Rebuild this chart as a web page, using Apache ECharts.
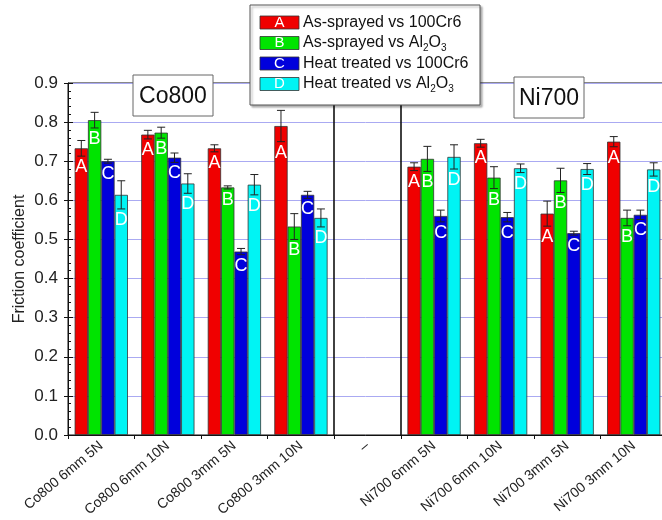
<!DOCTYPE html>
<html>
<head>
<meta charset="utf-8">
<script src="https://cdn.jsdelivr.net/npm/echarts@6/dist/echarts.min.js"></script>
<style>
  html, body { margin: 0; padding: 0; background: #fff; }
  #chart { width: 662px; height: 520px; }
</style>
</head>
<body>
<div id="chart"></div>
<script>
const categories = ['Co800 6mm 5N', 'Co800 6mm 10N', 'Co800 3mm 5N', 'Co800 3mm 10N', '–',
  'Ni700 6mm 5N', 'Ni700 6mm 10N', 'Ni700 3mm 5N', 'Ni700 3mm 10N'];

const sprayed100Cr6 = [0.733, 0.768, 0.733, 0.790, null, 0.686, 0.746, 0.566, 0.750];
const sprayed100Cr6Err = [0.020, 0.011, 0.009, 0.040, null, 0.010, 0.010, 0.032, 0.013];
const sprayedAl2O3 = [0.805, 0.773, 0.633, 0.533, null, 0.706, 0.658, 0.651, 0.555];
const sprayedAl2O3Err = [0.020, 0.014, 0.004, 0.033, null, 0.032, 0.028, 0.031, 0.020];
const heat100Cr6 = [0.700, 0.709, 0.469, 0.614, null, 0.560, 0.557, 0.516, 0.563];
const heat100Cr6Err = [0.005, 0.012, 0.008, 0.009, null, 0.015, 0.012, 0.005, 0.012];
const heatAl2O3 = [0.614, 0.643, 0.640, 0.555, null, 0.711, 0.682, 0.680, 0.679];
const heatAl2O3Err = [0.036, 0.025, 0.026, 0.023, null, 0.031, 0.011, 0.014, 0.017];

const letters = ['A', 'B', 'C', 'D'];
const colors = ['#f00000', '#00e400', '#0000dc', '#00f4f4'];
const legendLabels = [
  '{a|As-sprayed vs 100Cr6}',
  '{a|As-sprayed vs Al}{s|2}{a|O}{s|3}',
  '{a|Heat treated vs 100Cr6}',
  '{a|Heat treated vs Al}{s|2}{a|O}{s|3}'
];
const groupLabels = ['Co800', 'Ni700'];

const values = [sprayed100Cr6, sprayedAl2O3, heat100Cr6, heatAl2O3];
const errors = [sprayed100Cr6Err, sprayedAl2O3Err, heat100Cr6Err, heatAl2O3Err];

const FONT = '"Liberation Sans", Arial, sans-serif';
const GAP = 0.2;

const myChart = echarts.init(document.getElementById('chart'));

const barSeries = values.map((vals, k) => ({
  name: letters[k],
  type: 'bar',
  data: vals,
  barGap: 0,
  barCategoryGap: '20%',
  itemStyle: {
    color: colors[k],
    borderColor: '#333',
    borderWidth: 0.8
  },
  z: 2
}));

const errSeries = values.map((vals, k) => ({
  type: 'custom',
  z: 5,
  silent: true,
  encode: { x: 0, y: 1 },
  data: vals.map((v, i) => (v == null ? null : [i, v, errors[k][i]])).filter(d => d),
  renderItem: function (params, api) {
    const idx = api.value(0);
    const v = api.value(1);
    const e = api.value(2);
    const catW = api.size([1, 0])[0];
    const barW = catW * (1 - GAP) / 4;
    const off = (k - 1.5) * barW;
    const top = api.coord([idx, v + e]);
    const bot = api.coord([idx, v - e]);
    const x = top[0] + off;
    const cap = 4;
    const ls = { stroke: '#222', lineWidth: 1 };
    return {
      type: 'group',
      children: [
        { type: 'line', shape: { x1: x, y1: top[1], x2: x, y2: bot[1] }, style: ls },
        { type: 'line', shape: { x1: x - cap, y1: top[1], x2: x + cap, y2: top[1] }, style: ls },
        { type: 'line', shape: { x1: x - cap, y1: bot[1], x2: x + cap, y2: bot[1] }, style: ls },
        {
          type: 'text',
          style: {
            text: letters[k],
            x: x,
            y: bot[1] + 11,
            fill: '#fff',
            fontSize: 18,
            fontFamily: FONT,
            align: 'center',
            verticalAlign: 'middle'
          }
        }
      ]
    };
  }
}));

// legend drawn by hand so the letters can sit in the swatches
const legendGraphic = [
  {
    type: 'rect',
    shape: { x: 250, y: 5, width: 230, height: 100 },
    style: { fill: '#fff', stroke: '#555', lineWidth: 1, shadowBlur: 2, shadowOffsetX: 2, shadowOffsetY: 2, shadowColor: 'rgba(0,0,0,0.3)' },
    z: 100
  }
];
letters.forEach((l, k) => {
  const cy = 22.5 + k * 20.5;
  legendGraphic.push({
    type: 'rect',
    shape: { x: 260, y: cy - 6.5, width: 39, height: 13 },
    style: { fill: colors[k], stroke: '#333', lineWidth: 0.8 },
    z: 101
  });
  legendGraphic.push({
    type: 'text',
    style: { text: l, x: 279.5, y: cy, fill: '#fff', fontSize: 15, fontFamily: FONT, align: 'center', verticalAlign: 'middle' },
    z: 102
  });
  legendGraphic.push({
    type: 'text',
    style: {
      text: legendLabels[k],
      x: 303, y: cy - 10,
      align: 'left',
      verticalAlign: 'top',
      rich: {
        a: { fontSize: 16, fontFamily: FONT, fill: '#111', lineHeight: 20 },
        s: { fontSize: 10, fontFamily: FONT, fill: '#111', lineHeight: 4, verticalAlign: 'bottom' }
      }
    },
    z: 102
  });
});

const boxes = [
  { x: 133, y: 75, w: 80, h: 41 },
  { x: 514, y: 77, w: 70, h: 41 }
];
boxes.forEach((b, i) => {
  legendGraphic.push({
    type: 'rect',
    shape: { x: b.x, y: b.y, width: b.w, height: b.h },
    style: { fill: '#fff', stroke: '#666', lineWidth: 1 },
    z: 100
  });
  legendGraphic.push({
    type: 'text',
    style: { text: groupLabels[i], x: b.x + b.w / 2, y: b.y + b.h / 2 + 1, fill: '#111', fontSize: 23, fontFamily: FONT, align: 'center', verticalAlign: 'middle' },
    z: 101
  });
});

myChart.setOption({
  animation: false,
  textStyle: { fontFamily: FONT },
  grid: {
    left: 68,
    top: 83,
    width: 599,
    bottom: 85,
    show: true,
    borderColor: '#111',
    borderWidth: 1,
    outerBoundsMode: 'none',
    containLabel: false
  },
  xAxis: {
    type: 'category',
    data: categories,
    boundaryGap: true,
    axisLine: { lineStyle: { color: '#111', width: 1 } },
    axisTick: { show: true, interval: 0, length: 4, lineStyle: { color: '#111' } },
    axisLabel: { interval: 0, rotate: 40, fontSize: 14, color: '#222', margin: 9 },
    splitLine: {
      show: true,
      interval: function (index) { return index === 4 || index === 5; },
      lineStyle: { color: '#111', width: 1.6 }
    }
  },
  yAxis: [
    {
      type: 'value',
      min: 0,
      max: 0.9,
      interval: 0.1,
      name: 'Friction coefficient',
      nameLocation: 'middle',
      nameGap: 40,
      nameMoveOverlap: false,
      nameTextStyle: { fontSize: 16, color: '#222' },
      axisLine: { show: true, lineStyle: { color: '#111' } },
      axisTick: { show: true, inside: true, length: 5, lineStyle: { color: '#111' } },
      minorTick: { show: true, splitNumber: 5, length: 3, lineStyle: { color: '#111' } },
      axisLabel: { fontSize: 17, color: '#222', margin: 10, formatter: v => v.toFixed(1) },
      splitLine: { show: true, lineStyle: { color: '#aaaaf2', width: 1 } }
    },
    {
      type: 'value',
      position: 'left',
      min: 0,
      max: 0.9,
      interval: 0.1,
      axisLine: { show: false },
      axisTick: { show: true, inside: false, length: 4, lineStyle: { color: '#111' } },
      axisLabel: { show: false },
      splitLine: { show: false }
    }
  ],
  graphic: legendGraphic,
  series: barSeries.concat(errSeries)
});
</script>
</body>
</html>
